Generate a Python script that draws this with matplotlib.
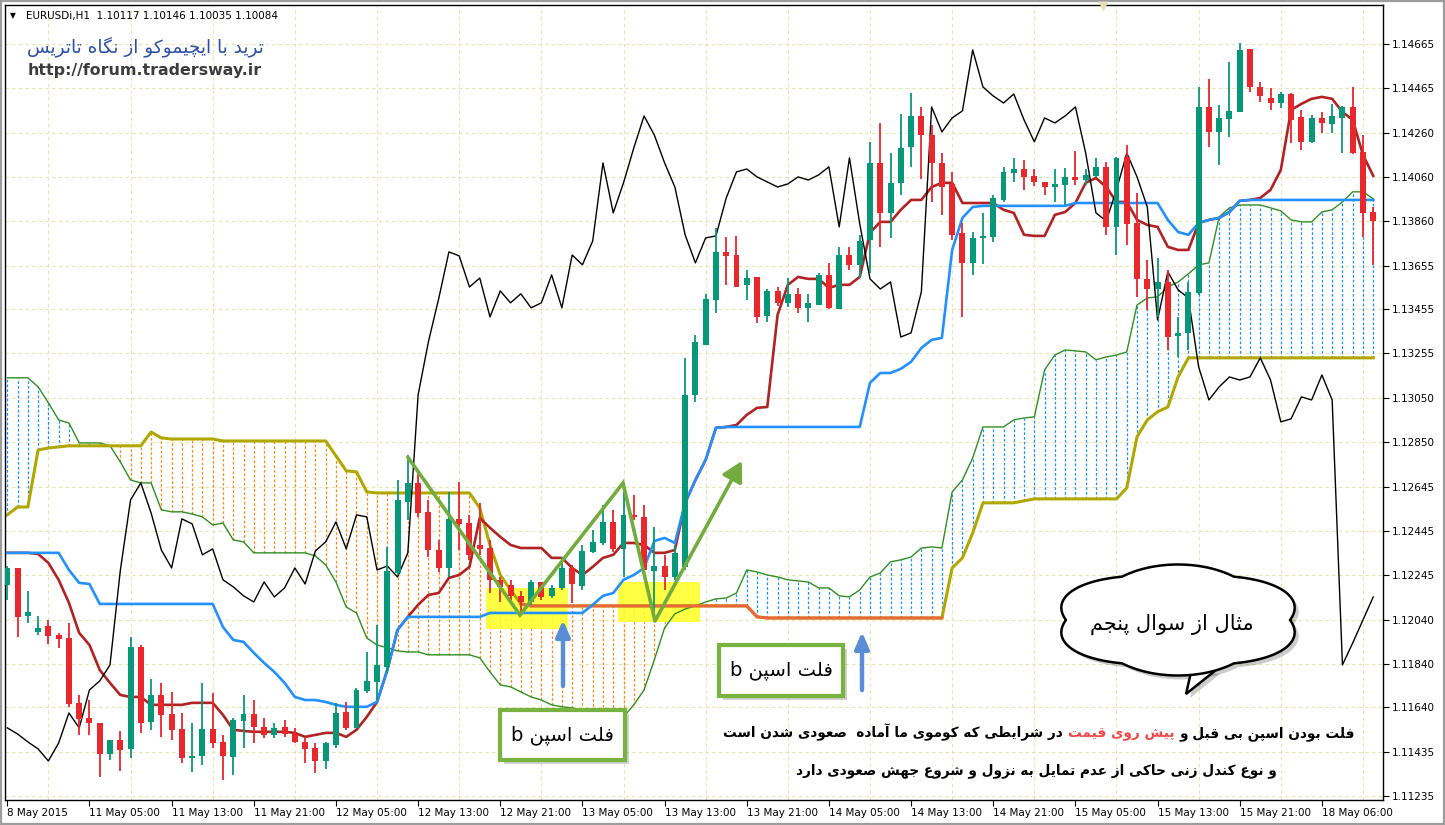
import unicodedata
import numpy as np
import matplotlib
matplotlib.use("Agg")
import matplotlib.pyplot as plt
from matplotlib.patches import Rectangle, Polygon
from matplotlib.transforms import Affine2D
from matplotlib.offsetbox import TextArea, HPacker, AnnotationBbox

plt.rcParams['font.family'] = ['DejaVu Sans']

# ---------------- data (EURUSDi H1) ----------------
opens = [1.12199, 1.12276, 1.12057, 1.11984, 1.12012, 1.11971, 1.11957, 1.11661, 1.11592, 1.11570,
         1.11428, 1.11492, 1.11451, 1.11916, 1.11574, 1.11697, 1.11611, 1.11542, 1.11410, 1.11419,
         1.11542, 1.11483, 1.11415, 1.11579, 1.11611, 1.11551, 1.11515, 1.11551, 1.11519, 1.11483,
         1.11456, 1.11396, 1.11469, 1.11620, 1.11547, 1.11715, 1.11756, 1.11825, 1.12253, 1.12577,
         1.12664, 1.12532, 1.12358, 1.12276, 1.12500, 1.12481, 1.12381, 1.12367, 1.12222, 1.12199,
         1.12149, 1.12121, 1.12212, 1.12149, 1.12185, 1.12276, 1.12194, 1.12349, 1.12390, 1.12486,
         1.12363, 1.12518, 1.12509, 1.12263, 1.12285, 1.12235, 1.12281, 1.13065, 1.13293, 1.13498,
         1.13717, 1.13703, 1.13567, 1.13603, 1.13425, 1.13539, 1.13485, 1.13526, 1.13462, 1.13475,
         1.13612, 1.13457, 1.13703, 1.13658, 1.13772, 1.14123, 1.13895, 1.14032, 1.14196, 1.14337,
         1.14250, 1.14123, 1.14027, 1.13804, 1.13667, 1.13781, 1.13785, 1.13954, 1.14077, 1.14095,
         1.14064, 1.14036, 1.14013, 1.14023, 1.14059, 1.14045, 1.14064, 1.14105, 1.13831, 1.14150,
         1.13849, 1.13594, 1.13548, 1.13580, 1.13334, 1.13348, 1.13530, 1.14378, 1.14264, 1.14323,
         1.14355, 1.14643, 1.14469, 1.14419, 1.14396, 1.14437, 1.14333, 1.14219, 1.14328, 1.14301,
         1.14328, 1.14378, 1.14173, 1.13899]
highs = [1.12285, 1.12276, 1.12171, 1.12057, 1.12039, 1.11980, 1.12025, 1.11697, 1.11674, 1.11570,
         1.11492, 1.11533, 1.11962, 1.11925, 1.11770, 1.11752, 1.11711, 1.11615, 1.11570, 1.11752,
         1.11706, 1.11515, 1.11592, 1.11697, 1.11674, 1.11592, 1.11570, 1.11583, 1.11547, 1.11506,
         1.11478, 1.11483, 1.11661, 1.11665, 1.11729, 1.11893, 1.12016, 1.12372, 1.12677, 1.12791,
         1.12714, 1.12586, 1.12404, 1.12623, 1.12668, 1.12518, 1.12573, 1.12404, 1.12235, 1.12222,
         1.12171, 1.12222, 1.12212, 1.12199, 1.12326, 1.12290, 1.12381, 1.12450, 1.12564, 1.12541,
         1.12664, 1.12609, 1.12564, 1.12463, 1.12336, 1.12381, 1.13234, 1.13339, 1.13526, 1.13826,
         1.13785, 1.13790, 1.13635, 1.13603, 1.13548, 1.13557, 1.13598, 1.13553, 1.13526, 1.13621,
         1.13667, 1.13740, 1.13740, 1.13795, 1.14219, 1.14305, 1.14168, 1.14346, 1.14442, 1.14378,
         1.14296, 1.14168, 1.14082, 1.13849, 1.13808, 1.13895, 1.13977, 1.14105, 1.14146, 1.14136,
         1.14095, 1.14036, 1.14095, 1.14100, 1.14178, 1.14095, 1.14146, 1.14127, 1.14150, 1.14205,
         1.13986, 1.13681, 1.13690, 1.13635, 1.13421, 1.13580, 1.14469, 1.14506, 1.14387, 1.14583,
         1.14670, 1.14643, 1.14492, 1.14465, 1.14447, 1.14442, 1.14364, 1.14342, 1.14355, 1.14392,
         1.14383, 1.14469, 1.14250, 1.13922]
lows = [1.12130, 1.11962, 1.12025, 1.11971, 1.11930, 1.11912, 1.11643, 1.11515, 1.11515, 1.11323,
        1.11401, 1.11351, 1.11410, 1.11524, 1.11538, 1.11506, 1.11492, 1.11387, 1.11346, 1.11378,
        1.11456, 1.11310, 1.11332, 1.11456, 1.11478, 1.11501, 1.11501, 1.11506, 1.11478, 1.11387,
        1.11342, 1.11360, 1.11456, 1.11538, 1.11547, 1.11706, 1.11674, 1.11798, 1.12244, 1.12495,
        1.12509, 1.12326, 1.12258, 1.12235, 1.12358, 1.12313, 1.12336, 1.12162, 1.12121, 1.12130,
        1.12076, 1.12108, 1.12130, 1.12139, 1.12176, 1.12117, 1.12176, 1.12345, 1.12381, 1.12349,
        1.12235, 1.12495, 1.12244, 1.12076, 1.12176, 1.12222, 1.12267, 1.13033, 1.13293, 1.13439,
        1.13567, 1.13557, 1.13498, 1.13393, 1.13398, 1.13471, 1.13466, 1.13439, 1.13398, 1.13475,
        1.13457, 1.13457, 1.13635, 1.13598, 1.13621, 1.13740, 1.13781, 1.13977, 1.14105, 1.14050,
        1.13945, 1.13886, 1.13772, 1.13421, 1.13612, 1.13662, 1.13763, 1.13945, 1.14036, 1.14000,
        1.14018, 1.13977, 1.13945, 1.13931, 1.14023, 1.14023, 1.14059, 1.13795, 1.13703, 1.13749,
        1.13512, 1.13453, 1.13421, 1.13270, 1.13238, 1.13270, 1.13521, 1.14196, 1.14114, 1.14241,
        1.14355, 1.14447, 1.14401, 1.14364, 1.14374, 1.14214, 1.14182, 1.14214, 1.14260, 1.14260,
        1.14168, 1.14164, 1.13785, 1.13658]
closes = [1.12276, 1.12053, 1.12076, 1.12003, 1.11966, 1.11953, 1.11656, 1.11588, 1.11570, 1.11428,
          1.11492, 1.11446, 1.11916, 1.11570, 1.11697, 1.11606, 1.11538, 1.11410, 1.11419, 1.11542,
          1.11478, 1.11419, 1.11583, 1.11611, 1.11551, 1.11515, 1.11547, 1.11519, 1.11483, 1.11451,
          1.11396, 1.11478, 1.11615, 1.11547, 1.11720, 1.11761, 1.11834, 1.12263, 1.12586, 1.12664,
          1.12527, 1.12358, 1.12276, 1.12500, 1.12477, 1.12336, 1.12363, 1.12222, 1.12190, 1.12149,
          1.12121, 1.12212, 1.12144, 1.12185, 1.12276, 1.12203, 1.12354, 1.12395, 1.12486, 1.12363,
          1.12518, 1.12509, 1.12267, 1.12285, 1.12235, 1.12345, 1.13065, 1.13307, 1.13503, 1.13717,
          1.13699, 1.13557, 1.13598, 1.13421, 1.13539, 1.13485, 1.13526, 1.13462, 1.13485, 1.13612,
          1.13462, 1.13703, 1.13658, 1.13767, 1.14123, 1.13895, 1.14032, 1.14191, 1.14337, 1.14250,
          1.14123, 1.14013, 1.13795, 1.13667, 1.13781, 1.13790, 1.13963, 1.14082, 1.14095, 1.14059,
          1.14036, 1.14013, 1.14027, 1.14059, 1.14045, 1.14068, 1.14105, 1.13831, 1.14146, 1.13845,
          1.13594, 1.13548, 1.13580, 1.13329, 1.13348, 1.13535, 1.14378, 1.14264, 1.14328, 1.14360,
          1.14638, 1.14469, 1.14428, 1.14396, 1.14437, 1.14319, 1.14219, 1.14328, 1.14305, 1.14337,
          1.14378, 1.14168, 1.13895, 1.13858]

# Ichimoku lines
tenkan = ([1.12345] * 3 +
          [1.12340, 1.12299, 1.12222, 1.12117, 1.11980, 1.11925, 1.11811, 1.11752, 1.11697, 1.11688, 1.11688] +
          [1.11652] * 4 + [1.11661] * 3 + [1.11606, 1.11538, 1.11533] + [1.11529] * 4 +
          [1.11524, 1.11506, 1.11515, 1.11524, 1.11524, 1.11506, 1.11538, 1.11597, 1.11665, 1.11811] +
          [1.11994, 1.12053, 1.12108, 1.12153, 1.12162, 1.12231, 1.12244, 1.12281, 1.12504, 1.12459, 1.12418, 1.12381] +
          [1.12367] * 3 + [1.12322] * 2 + [1.12276, 1.12244, 1.12281, 1.12322, 1.12336] +
          [1.12390] * 2 + [1.12381] + [1.12345] * 2 + [1.12358] +
          [1.12573, 1.12677, 1.12769, 1.12915, 1.12919] +
          [1.12928, 1.12974, 1.13006, 1.13010, 1.13430, 1.13567, 1.13603, 1.13594, 1.13594, 1.13553] +
          [1.13567, 1.13567, 1.13603, 1.13804, 1.13854, 1.13854, 1.13909, 1.13954, 1.13954, 1.14013] +
          [1.14032, 1.14032, 1.13940, 1.13940, 1.13940, 1.13940, 1.13909, 1.13895, 1.13795, 1.13790] +
          [1.13790, 1.13886, 1.13899, 1.13940, 1.14032, 1.14054, 1.14013, 1.13945, 1.13945, 1.13863] +
          [1.13840, 1.13831, 1.13740, 1.13726, 1.13726] +
          [1.13849, 1.13863, 1.13872, 1.13899, 1.13950, 1.13954] +
          [1.13963, 1.14000, 1.14091, 1.14364, 1.14392, 1.14415, 1.14424, 1.14415, 1.14355, 1.14319, 1.14159, 1.14064])
kijun = ([1.12345] * 6 + [1.12267, 1.12208, 1.12203] + [1.12112] * 12 +
         [1.12007, 1.11948, 1.11939, 1.11889, 1.11843, 1.11802, 1.11752, 1.11688] +
         [1.11674] * 2 + [1.11665, 1.11652] + [1.11643] * 3 + [1.11665, 1.11811, 1.11994] +
         [1.12053] * 8 + [1.12071] * 10 +
         [1.12108, 1.12149, 1.12162, 1.12222, 1.12244, 1.12276, 1.12399, 1.12413, 1.12390, 1.12573, 1.12677, 1.12769, 1.12915] +
         [1.12919] * 14 + [1.13120, 1.13165, 1.13165, 1.13184, 1.13216, 1.13279, 1.13316, 1.13325] +
         [1.13726, 1.13872, 1.13922] + [1.13927] * 9 + [1.13940] * 9 +
         [1.13863, 1.13808, 1.13795, 1.13849, 1.13863, 1.13872, 1.13899, 1.13950] + [1.13954] * 13)
span_a = ([1.13143] * 3 + [1.13102, 1.13029, 1.12951, 1.12937] + [1.12846] * 3 +
          [1.12833, 1.12760, 1.12677, 1.12664, 1.12664, 1.12541, 1.12532, 1.12532, 1.12522, 1.12509, 1.12472, 1.12481, 1.12404, 1.12395] +
          [1.12345] * 6 +
          [1.12331, 1.12290, 1.12212, 1.12098, 1.12071, 1.11957, 1.11925, 1.11912, 1.11898, 1.11893, 1.11893] +
          [1.11880] * 5 +
          [1.11866, 1.11802, 1.11743, 1.11734, 1.11711, 1.11688, 1.11674, 1.11652, 1.11643, 1.11638] +
          [1.11629, 1.11624, 1.11620, 1.11620, 1.11597, 1.11652, 1.11720, 1.11857, 1.12003, 1.12067] +
          [1.12089, 1.12103, 1.12121, 1.12135, 1.12139, 1.12162, 1.12267, 1.12258, 1.12244, 1.12235] +
          [1.12222, 1.12217, 1.12212, 1.12185, 1.12185, 1.12149, 1.12144, 1.12176, 1.12235, 1.12253] +
          [1.12304, 1.12313, 1.12326, 1.12367, 1.12372, 1.12367, 1.12623, 1.12677, 1.12778, 1.12919] +
          [1.12919, 1.12919, 1.12951, 1.12960, 1.12965, 1.13179, 1.13247, 1.13270, 1.13266, 1.13261] +
          [1.13225, 1.13238, 1.13247, 1.13261, 1.13475, 1.13507, 1.13512, 1.13557, 1.13580, 1.13617] +
          [1.13658, 1.13667, 1.13877, 1.13918, 1.13931, 1.13931, 1.13931, 1.13918, 1.13904, 1.13863] +
          [1.13854, 1.13854, 1.13899, 1.13909, 1.13945, 1.13991, 1.13991, 1.13959])
span_b = ([1.12518, 1.12554, 1.12554, 1.12814, 1.12823, 1.12828] + [1.12833] * 8 + [1.12896, 1.12869] +
          [1.12864] * 5 + [1.12855] * 11 + [1.12787, 1.12719, 1.12714, 1.12623] + [1.12618] * 10 +
          [1.12550, 1.12381, 1.12244, 1.12176, 1.12112] + [1.12103] * 22 + [1.12053] + [1.12048] * 18 +
          [1.12276, 1.12322, 1.12436] + [1.12573] * 4 + [1.12582] + [1.12591] * 9 +
          [1.12641, 1.12874, 1.12951, 1.12988, 1.13010, 1.13147] + [1.13234] * 19)
# chikou = close shifted back 26 bars; the last 26 points come from bars after the visible window
chikou_tail = [1.14000, 1.14168, 1.14059, 1.13922, 1.13407, 1.13626, 1.13544, 1.13507, 1.13193, 1.13042,
               1.13102, 1.13147, 1.13133, 1.13147, 1.13234, 1.13133, 1.12942, 1.12956, 1.13056, 1.13042,
               1.13156, 1.13042, 1.11834, 1.11934, 1.12039, 1.12144]
flat_b_from, flat_b_to = 50, 92

ytick_labels = ['1.14665', '1.14465', '1.14260', '1.14060', '1.13860', '1.13655', '1.13455', '1.13255', '1.13050',
                '1.12850', '1.12645', '1.12445', '1.12245', '1.12040', '1.11840', '1.11640', '1.11435', '1.11235']
xtick_labels = ['8 May 2015', '11 May 05:00', '11 May 13:00', '11 May 21:00', '12 May 05:00', '12 May 13:00',
                '12 May 21:00', '13 May 05:00', '13 May 13:00', '13 May 21:00', '14 May 05:00', '14 May 13:00',
                '14 May 21:00', '15 May 05:00', '15 May 13:00', '15 May 21:00', '18 May 06:00']

title_fa = 'ترید با ایچیموکو از نگاه تاتریس'
box_fa = 'فلت اسپن b'
cloud_fa = 'مثال از سوال پنجم'
line1_fa = ['فلت بودن اسپن بی قبل و', 'پیش روی قیمت', 'در شرایطی که کوموی ما آماده  صعودی شدن است']
line2_fa = 'و نوع کندل زنی حاکی از عدم تمایل به نزول و شروع جهش صعودی دارد'

# ---------------- persian shaping (matplotlib has no RTL layout) ----------------
FORMS = {
    'ا': ('\uFE8D', '\uFE8E', None, None), 'آ': ('\uFE81', '\uFE82', None, None),
    'ب': ('\uFE8F', '\uFE90', '\uFE91', '\uFE92'), 'پ': ('\uFB56', '\uFB57', '\uFB58', '\uFB59'),
    'ت': ('\uFE95', '\uFE96', '\uFE97', '\uFE98'), 'ث': ('\uFE99', '\uFE9A', '\uFE9B', '\uFE9C'),
    'ج': ('\uFE9D', '\uFE9E', '\uFE9F', '\uFEA0'), 'چ': ('\uFB7A', '\uFB7B', '\uFB7C', '\uFB7D'),
    'ح': ('\uFEA1', '\uFEA2', '\uFEA3', '\uFEA4'), 'خ': ('\uFEA5', '\uFEA6', '\uFEA7', '\uFEA8'),
    'د': ('\uFEA9', '\uFEAA', None, None), 'ذ': ('\uFEAB', '\uFEAC', None, None),
    'ر': ('\uFEAD', '\uFEAE', None, None), 'ز': ('\uFEAF', '\uFEB0', None, None),
    'ژ': ('\uFB8A', '\uFB8B', None, None),
    'س': ('\uFEB1', '\uFEB2', '\uFEB3', '\uFEB4'), 'ش': ('\uFEB5', '\uFEB6', '\uFEB7', '\uFEB8'),
    'ص': ('\uFEB9', '\uFEBA', '\uFEBB', '\uFEBC'), 'ض': ('\uFEBD', '\uFEBE', '\uFEBF', '\uFEC0'),
    'ط': ('\uFEC1', '\uFEC2', '\uFEC3', '\uFEC4'), 'ظ': ('\uFEC5', '\uFEC6', '\uFEC7', '\uFEC8'),
    'ع': ('\uFEC9', '\uFECA', '\uFECB', '\uFECC'), 'غ': ('\uFECD', '\uFECE', '\uFECF', '\uFED0'),
    'ف': ('\uFED1', '\uFED2', '\uFED3', '\uFED4'), 'ق': ('\uFED5', '\uFED6', '\uFED7', '\uFED8'),
    'ک': ('\uFB8E', '\uFB8F', '\uFB90', '\uFB91'), 'گ': ('\uFB92', '\uFB93', '\uFB94', '\uFB95'),
    'ل': ('\uFEDD', '\uFEDE', '\uFEDF', '\uFEE0'), 'م': ('\uFEE1', '\uFEE2', '\uFEE3', '\uFEE4'),
    'ن': ('\uFEE5', '\uFEE6', '\uFEE7', '\uFEE8'), 'و': ('\uFEED', '\uFEEE', None, None),
    'ه': ('\uFEE9', '\uFEEA', '\uFEEB', '\uFEEC'), 'ی': ('\uFBFC', '\uFBFD', '\uFBFE', '\uFBFF'),
}


def fa(text):
    text = unicodedata.normalize('NFC', text).replace('ي', 'ی').replace('ك', 'ک')
    out = []
    for k, ch in enumerate(text):
        f = FORMS.get(ch)
        if f is None:
            out.append(ch)
            continue
        prev = text[k - 1] if k > 0 else ''
        nxt = text[k + 1] if k + 1 < len(text) else ''
        jp = prev in FORMS and FORMS[prev][2] is not None
        jn = nxt in FORMS and f[2] is not None
        if jp and jn:
            out.append(f[3])
        elif jp:
            out.append(f[1])
        elif jn:
            out.append(f[2])
        else:
            out.append(f[0])
    return ''.join(reversed(out))


# ---------------- figure ----------------
n = len(closes)
idx = np.arange(n)
o, h, l, c = map(np.array, (opens, highs, lows, closes))
sa, sb = np.array(span_a), np.array(span_b)
chikou = list(closes[26:]) + chikou_tail

fig = plt.figure(figsize=(14.45, 8.25), dpi=100)
fig.patch.set_facecolor('white')
ax = fig.add_axes([5 / 1445, 25 / 825, 1378 / 1445, 795 / 825])
ax.set_xlim(-0.224, 133.95)
ax.set_ylim(1.112181, 1.148428)
# reference-pixel -> main axes
pix = Affine2D().translate(-5, -800).scale(1 / 1378, -1 / 795) + ax.transAxes

# kumo hatching
up = sa >= sb
dash = (0, (2.2, 1.6))
ax.vlines(idx[up], sb[up], sa[up], colors='#1E90FF', linestyles=dash, lw=0.9, zorder=1)
ax.vlines(idx[~up], sa[~up], sb[~up], colors='#FF8C1A', linestyles=dash, lw=0.9, zorder=1)

# yellow highlight boxes (chart objects, behind candles)
for x0, y0, x1, y1 in [(486, 588, 568, 629), (618, 582, 700, 622)]:
    ax.add_patch(Rectangle((x0, y0), x1 - x0, y1 - y0, transform=pix, fc='#FFFF2E',
                           ec='none', alpha=0.9, zorder=1.5))

ax.plot(idx, sa, color='#2F8F22', lw=1.0, zorder=2)
ax.plot(idx, sb, color='#B0A800', lw=2.2, zorder=2.1)
ax.plot(idx[flat_b_from:flat_b_to], sb[flat_b_from:flat_b_to], color='#F2603F', lw=2.2, alpha=0.9, zorder=2.2)
ax.plot(idx, tenkan, color='#B22222', lw=1.9, zorder=3)
ax.plot(idx, kijun, color='#2291FF', lw=1.9, zorder=3.1)
ax.plot(idx, chikou, color='black', lw=1.0, zorder=3.2)

# candles
bull = c >= o
col = np.where(bull, '#07987A', '#E8282C')
ax.vlines(idx, l, h, colors=col, lw=1.3, zorder=4)
body_lo = np.minimum(o, c)
body_h = np.maximum(np.abs(c - o), 0.00004)
ax.bar(idx, body_h, bottom=body_lo, width=0.58, color=col, zorder=4.1)

# axes styling
ax.set_yticks([float(v) for v in ytick_labels])
ax.set_yticklabels(ytick_labels)
ax.yaxis.tick_right()
ax.set_xticks(np.arange(0, 8 * len(xtick_labels), 8))
ax.set_xticklabels(xtick_labels, ha='left')
ax.set_xticks(np.arange(0, n, 4), minor=True)
ax.tick_params(axis='both', which='major', direction='out', length=4, width=0.8, labelsize=7.5, pad=2)
ax.tick_params(axis='x', which='minor', length=0)
ax.grid(axis='y', which='major', color='#E8E4B0', ls=(0, (3, 3)), lw=0.8, zorder=0)
ax.grid(axis='x', which='minor', color='#E8E4B0', ls=(0, (3, 3)), lw=0.8, zorder=0)
ax.set_axisbelow(True)
for s in ax.spines.values():
    s.set_color('black')
    s.set_linewidth(1.0)

# ---------------- annotations (reference pixel space) ----------------
ov = fig.add_axes([0, 0, 1, 1], facecolor='none')
ov.set_xlim(0, 1445)
ov.set_ylim(825, 0)
ov.axis('off')

ov.add_patch(Rectangle((0.8, 0.8), 1443.4, 823.4, fill=False, ec='#9C9C9C', lw=1.6))
ov.plot([1103], [6], marker='v', ms=7, color='#E4E0B4', mec='none')

ov.text(10, 16, '\u25BC', fontsize=5.5, va='center', ha='left', color='black')
ov.text(26, 16, 'EURUSDi,H1  1.10117 1.10146 1.10035 1.10084', fontsize=7.5, va='center', ha='left')
ov.text(145, 47, fa(title_fa), fontsize=13.3, color='#2C50A8', ha='center', va='center')
ov.text(28, 71, 'http://forum.tradersway.ir', fontsize=11.4, fontweight='bold', color='#3C3C3C',
        ha='left', va='center')

green = '#72AC3E'
ov.plot([407, 520, 623, 655], [456, 615, 483, 621], color=green, lw=2.6, solid_joinstyle='miter',
        solid_capstyle='butt')
ov.annotate('', xy=(742, 461), xytext=(655, 621),
            arrowprops=dict(arrowstyle='-|>,head_length=1.0,head_width=0.55', color=green, lw=2.6,
                            shrinkA=0, shrinkB=0, mutation_scale=12))

blue_arrow = '#5B8DD6'
for x, y0, y1 in [(563, 686, 620), (862, 690, 632)]:
    ov.annotate('', xy=(x, y1), xytext=(x, y0),
                arrowprops=dict(arrowstyle='-|>,head_length=0.8,head_width=0.35', color=blue_arrow,
                                lw=3.2, shrinkA=0, shrinkB=0, mutation_scale=12))

for x0, y0, x1, y1 in [(500, 710, 625, 760), (719, 645, 843, 696)]:
    ov.add_patch(Rectangle((x0 + 4, y0 + 4), x1 - x0, y1 - y0, fc='black', ec='none', alpha=0.18))
    ov.add_patch(Rectangle((x0, y0), x1 - x0, y1 - y0, fc='white', ec='#79B33F', lw=3))
    ov.text((x0 + x1) / 2, (y0 + y1) / 2, fa(box_fa), fontsize=14, ha='center', va='center')

# speech cloud
t = np.linspace(0, 2 * np.pi, 600)
bump = 1 + 0.11 * np.abs(np.sin(3.0 * t))
cx, cy, rx, ry = 1178, 620, 112, 50
cloud_xy = np.column_stack([cx + rx * bump * np.cos(t), cy + ry * bump * np.sin(t)])
tail_xy = [(1192, 668), (1186, 694), (1216, 670)]
for dx, fc, ec, a in [(4, 'black', 'none', 0.2), (0, 'white', 'black', 1.0)]:
    ov.add_patch(Polygon([(x + dx, y + dx) for x, y in tail_xy], closed=True, fc=fc, ec=ec, lw=1.8, alpha=a))
    ov.add_patch(Polygon(cloud_xy + dx, closed=True, fc=fc, ec=ec, lw=1.8, alpha=a))
ov.text(1172, 624, fa(cloud_fa), fontsize=15, ha='center', va='center')

# bottom explanation
tp = dict(fontsize=9.8, fontweight='bold')
segs = [TextArea(fa(line1_fa[2]), textprops=dict(color='black', **tp)),
        TextArea(fa(line1_fa[1]), textprops=dict(color='#F04848', **tp)),
        TextArea(fa(line1_fa[0]), textprops=dict(color='black', **tp))]
row = HPacker(children=segs, sep=3.5, pad=0, align='baseline')
ov.add_artist(AnnotationBbox(row, (1039, 732), xycoords='data', frameon=False, box_alignment=(0.5, 0.5)))
ov.text(1036, 771, fa(line2_fa), color='black', ha='center', va='center', **tp)

fig.savefig('out.png', dpi=100, facecolor='white')
